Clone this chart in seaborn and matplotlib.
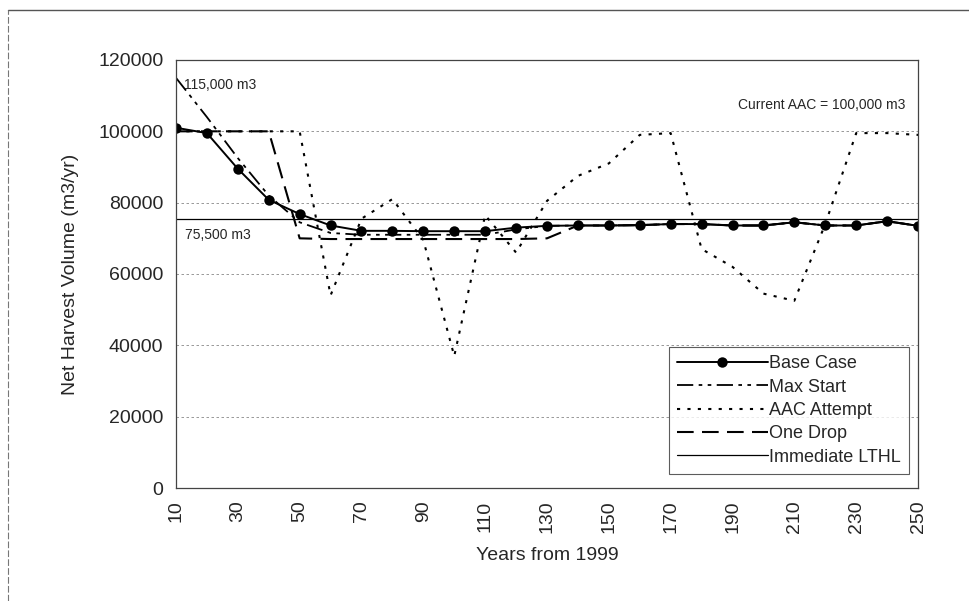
import matplotlib
matplotlib.use("Agg")
import matplotlib.pyplot as plt
import seaborn as sns
import pandas as pd
from matplotlib.lines import Line2D

# Harvest forecast scenarios (net harvest volume, m3/yr)
years = [10, 20, 30, 40, 50, 60, 70, 80, 90, 100, 110, 120, 130,
         140, 150, 160, 170, 180, 190, 200, 210, 220, 230, 240, 250]

base_case = [101000, 99500, 89500, 80800, 76800, 73600, 72100, 72100, 72000,
             72000, 72000, 73000, 73500, 73600, 73600, 73700, 74000, 74000,
             73600, 73600, 74500, 73600, 73600, 74800, 73500]

max_start = [115000, 104000, 92500, 82000, 74500, 71500, 71000, 71000, 71000,
             71000, 71000, 72500, 73500, 73600, 73600, 73700, 74000, 74000,
             73600, 73600, 74500, 73600, 73600, 74800, 73500]

aac_attempt = [100000, 100000, 100000, 100000, 100000, 54000, 75500, 81000,
               69500, 37000, 76500, 66000, 80500, 87500, 91000, 99000, 99500,
               67000, 62000, 54500, 52500, 74000, 99500, 99500, 99000]

one_drop = [100000, 100000, 100000, 100000, 70000, 69800, 69800, 69800, 69800,
            69800, 69800, 69800, 70000, 73600, 73600, 73700, 74000, 74000,
            73600, 73600, 74500, 73600, 73600, 74800, 73500]

immediate_lthl = [75500] * len(years)

series_names = ["Base Case", "Max Start", "AAC Attempt", "One Drop", "Immediate LTHL"]
series_values = [base_case, max_start, aac_attempt, one_drop, immediate_lthl]

y_ticks = [0, 20000, 40000, 60000, 80000, 100000, 120000]
x_tick_labels = [10, 30, 50, 70, 90, 110, 130, 150, 170, 190, 210, 230, 250]

sns.set_theme(style="white")
plt.rcParams["font.family"] = ["Liberation Sans", "DejaVu Sans"]

fig = plt.figure(figsize=(9.69, 6.01), dpi=100)
ax = fig.add_axes([0.1816, 0.188, 0.7658, 0.7122])

styles = {
    "Base Case": dict(linestyle="-", linewidth=1.4, marker="o", markersize=7.5),
    "Max Start": dict(linestyle=(0, (9, 3, 2, 3, 2, 3)), linewidth=1.3),
    "AAC Attempt": dict(linestyle=(0, (1.5, 3.5)), linewidth=1.5),
    "One Drop": dict(linestyle=(0, (8, 4)), linewidth=1.5),
    "Immediate LTHL": dict(linestyle="-", linewidth=0.9),
}

for name, vals in zip(series_names, series_values):
    df = pd.DataFrame({"Year": years, "Volume": vals})
    sns.lineplot(data=df, x="Year", y="Volume", ax=ax, color="black",
                 label=name, markeredgewidth=0, **styles[name])

ax.set_xlim(years[0], years[-1])
ax.set_ylim(0, 120000)
ax.set_yticks(y_ticks)
ax.set_yticklabels([str(v) for v in y_ticks], fontsize=14)
ax.set_xticks(years, minor=False)
ax.set_xticklabels([str(y) if y in x_tick_labels else "" for y in years],
                   rotation=90, fontsize=14)
ax.tick_params(axis="x", which="major", direction="out", length=5, width=0.8,
               color="#555555", pad=4)
ax.tick_params(axis="y", direction="out", length=5, width=0.8,
               color="#555555", pad=4)

for v in y_ticks[1:-1]:
    ax.axhline(v, color="#888888", linestyle=(0, (3, 3)), linewidth=0.6, zorder=0)

for s in ax.spines.values():
    s.set_visible(True)
    s.set_color("#444444")
    s.set_linewidth(0.9)

ax.set_xlabel("Years from 1999", fontsize=14, labelpad=10)
ax.set_ylabel("Net Harvest Volume (m3/yr)", fontsize=14, labelpad=14)

ax.text(12.5, 113000, "115,000 m3", fontsize=10, va="center", ha="left")
ax.text(13, 71000, "75,500 m3", fontsize=10, va="center", ha="left")
ax.text(246, 107500, "Current AAC = 100,000 m3", fontsize=10, va="center", ha="right")

handles, labels = ax.get_legend_handles_labels()
leg = ax.legend(handles, labels, loc="lower right", bbox_to_anchor=(0.993, 0.025),
                fontsize=13, frameon=True, fancybox=False, handlelength=5.0,
                handletextpad=0.1, borderpad=0.45, labelspacing=0.35,
                borderaxespad=0.2)
leg.get_frame().set_edgecolor("#333333")
leg.get_frame().set_linewidth(0.8)

# outer chart border (top and left edges)
fig.add_artist(Line2D([0.008, 1.0], [0.983, 0.983], transform=fig.transFigure,
                      color="#555555", linewidth=1.0))
fig.add_artist(Line2D([0.008, 0.008], [0.0, 0.983], transform=fig.transFigure,
                      color="#777777", linewidth=0.8, linestyle=(0, (6, 2))))

fig.savefig("out.png", dpi=100, facecolor="white")
